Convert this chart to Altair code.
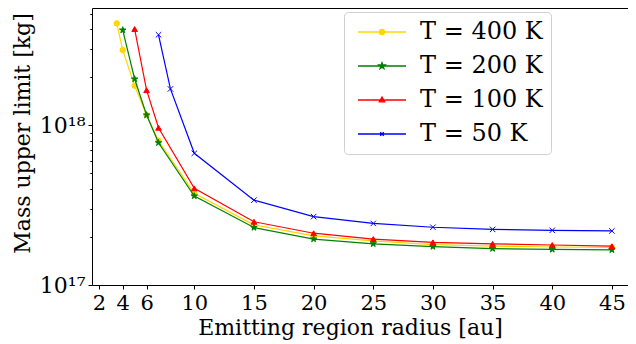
import math
import altair as alt
import pandas as pd

# ---------------- data ----------------
series_names = ["T = 400 K", "T = 200 K", "T = 100 K", "T = 50 K"]
series_colors = ["#FFD700", "#008000", "#FF0000", "#0000FF"]

radius_400 = [3.5, 4, 5, 6, 7, 10, 15, 20, 25, 30, 35, 40, 45]
mass_400 = [4.35e18, 2.96e18, 1.77e18, 1.16e18, 8.01e17, 3.75e17, 2.38e17,
            2.03e17, 1.89e17, 1.79e17, 1.75e17, 1.73e17, 1.72e17]
radius_200 = [4, 5, 6, 7, 10, 15, 20, 25, 30, 35, 40, 45]
mass_200 = [3.95e18, 1.95e18, 1.16e18, 7.78e17, 3.61e17, 2.29e17, 1.94e17,
            1.81e17, 1.74e17, 1.69e17, 1.67e17, 1.66e17]
radius_100 = [5, 6, 7, 10, 15, 20, 25, 30, 35, 40, 45]
mass_100 = [4.01e18, 1.66e18, 9.66e17, 4.03e17, 2.49e17, 2.11e17, 1.94e17,
            1.85e17, 1.81e17, 1.78e17, 1.75e17]
radius_50 = [7, 8, 10, 15, 20, 25, 30, 35, 40, 45]
mass_50 = [3.69e18, 1.69e18, 6.68e17, 3.40e17, 2.68e17, 2.43e17, 2.30e17,
           2.23e17, 2.20e17, 2.18e17]

x_ticks = [2, 4, 6, 10, 15, 20, 25, 30, 35, 40, 45]
y_major_ticks = [1e17, 1e18]
y_major_labels = ["10\u00b9\u2077", "10\u00b9\u2078"]
y_minor_ticks = [2e17, 3e17, 4e17, 5e17, 6e17, 7e17, 8e17, 9e17,
                 2e18, 3e18, 4e18, 5e18]

x_title = "Emitting region radius [au]"
y_title = "Mass upper limit [kg]"

# ---------------- table ----------------
rows = []
for name, xs, ys in zip(series_names,
                        [radius_400, radius_200, radius_100, radius_50],
                        [mass_400, mass_200, mass_100, mass_50]):
    for xv, yv in zip(xs, ys):
        rows.append({"series": name, "radius": xv, "mass": yv})
df = pd.DataFrame(rows)

# ---------------- marker shapes ----------------
def star_path(cx=0.0, r=1.0, ri=0.382):
    pts = []
    for k in range(10):
        ang = math.radians(-90 + 36 * k)
        rr = r if k % 2 == 0 else ri
        pts.append((cx + rr * math.cos(ang), rr * math.sin(ang)))
    return "M" + "L".join(f"{px:.3f},{py:.3f}" for px, py in pts) + "Z"

def circle_path(cx, r):
    return (f"M{cx + r:.3f},0A{r},{r},0,1,1,{cx - r:.3f},0"
            f"A{r},{r},0,1,1,{cx + r:.3f},0Z")

def tri_path(cx, r):
    return (f"M{cx:.3f},{-r:.3f}L{cx + r * 0.9:.3f},{r * 0.6:.3f}"
            f"L{cx - r * 0.9:.3f},{r * 0.6:.3f}Z")

def x_path(cx, r):
    return (f"M{cx - r:.3f},{-r:.3f}L{cx + r:.3f},{r:.3f}"
            f"M{cx - r:.3f},{r:.3f}L{cx + r:.3f},{-r:.3f}")

point_shapes = ["circle", star_path(), "triangle-up", x_path(0, 1)]
point_sizes = [30, 45, 32, 30]

seg = "M-1,0L7,0"
legend_shapes = [seg + circle_path(3, 0.42),
                 seg + star_path(3, 0.55, 0.22),
                 seg + tri_path(3, 0.5),
                 seg + x_path(3, 0.3)]

# ---------------- scales ----------------
FONT = "DejaVu Serif"
PLOT_W = 536
x_scale = alt.Scale(domain=[1.425, 1.425 + PLOT_W / 11.931], nice=False, zero=False)
y_scale = alt.Scale(type="log", domain=[1e17, 5.43e18], nice=False)

y_all_ticks = sorted(y_major_ticks + y_minor_ticks)
label_expr = " : ".join(
    f"datum.value == {v:e} ? '{lab}'" for v, lab in zip(y_major_ticks, y_major_labels)
) + " : ''"
major_test = " || ".join(f"datum.value == {v:e}" for v in y_major_ticks)

x_axis = alt.Axis(values=x_ticks, title=x_title, grid=False, domain=True,
                  domainColor="black", domainWidth=1,
                  tickSize=4, tickColor="black", labelFont=FONT,
                  labelFontSize=21, labelPadding=3, labelColor="black",
                  titleFont=FONT, titleFontSize=22, titleFontWeight="normal",
                  titleColor="black", titleX=258, titleY=49,
                  titleAlign="center", titleBaseline="alphabetic")
y_axis = alt.Axis(values=y_all_ticks, labelExpr=label_expr, title=y_title,
                  grid=False, domain=True, domainColor="black", domainWidth=1,
                  tickSize={"condition": {"test": major_test, "value": 4},
                            "value": 2.2},
                  tickColor="black", labelFont=FONT, labelFontSize=22,
                  labelPadding=3, labelColor="black",
                  titleFont=FONT, titleFontSize=22, titleFontWeight="normal",
                  titleColor="black", titleX=-70, titleY=125,
                  titleAlign="center", titleBaseline="middle",
                  titleAngle=270)
top_axis = alt.Axis(orient="top", title=None, labels=False, ticks=False, grid=False,
                    domain=True, domainColor="black", domainWidth=1)

y_enc = alt.Y("mass:Q", scale=y_scale, axis=y_axis)

layers = []
first = True
for name, col, shp, sz in zip(series_names, series_colors, point_shapes, point_sizes):
    base = alt.Chart(df).transform_filter(alt.datum.series == name)
    xa = x_axis if first else None
    first = False
    layers.append(base.mark_line(color=col, strokeWidth=1.2).encode(
        x=alt.X("radius:Q", scale=x_scale, axis=xa), y=y_enc))
    layers.append(base.mark_point(shape=shp, size=sz, filled=True, fill=col,
                                  stroke=col, strokeWidth=1, opacity=1)
                  .encode(x=alt.X("radius:Q", scale=x_scale, axis=None), y=y_enc))

leg = alt.Legend(title=None, orient="none", legendX=252, legendY=4,
                 labelFont=FONT, labelFontSize=24, labelColor="black",
                 symbolSize=144, labelOffset=44, padding=8, rowPadding=10,
                 fillColor="white", strokeColor="#d0d0d0", cornerRadius=4,
                 symbolStrokeWidth=1.3, symbolOpacity=1, labelLimit=0)

legend_layer = alt.Chart(df).mark_point(opacity=0, filled=True).encode(
    x=alt.X("radius:Q", scale=x_scale, axis=top_axis),
    y=y_enc,
    fill=alt.Fill("series:N", scale=alt.Scale(domain=series_names, range=series_colors),
                  legend=leg),
    stroke=alt.Stroke("series:N", scale=alt.Scale(domain=series_names, range=series_colors),
                      legend=leg),
    shape=alt.Shape("series:N", scale=alt.Scale(domain=series_names, range=legend_shapes),
                    legend=leg),
)

chart = alt.layer(*layers, legend_layer).resolve_axis(x="independent").properties(
    width=PLOT_W, height=277,
    autosize=alt.AutoSizeParams(type="none"),
    padding={"left": 84, "top": 0, "right": 0, "bottom": 59},
    background="white",
).configure_view(stroke=None)

chart.save("out.html", embed_options={"renderer": "svg", "actions": False})
